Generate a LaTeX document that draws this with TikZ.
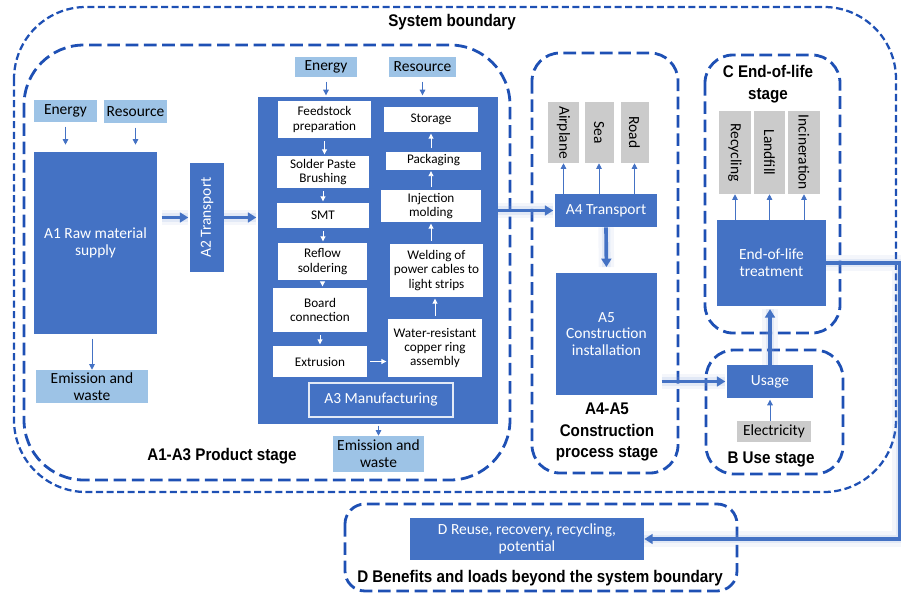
\documentclass[tikz,border=0pt]{standalone}
\usepackage{fontspec}
\setmainfont{Carlito}
\newfontfamily\stagefont[FakeStretch=0.9]{Liberation Sans}
\usetikzlibrary{arrows.meta,positioning,calc}

\definecolor{boxblue}{HTML}{4472C4}
\definecolor{inputblue}{HTML}{9DC3E6}
\definecolor{modegray}{HTML}{CBCBCB}
\definecolor{lineblue}{HTML}{1E50B4}

\tikzset{
  sz/.style 2 args={minimum width=#1*0.025cm, minimum height=#2*0.025cm},
  bluebox/.style={fill=boxblue, text=white, inner sep=0pt, align=center, font=\fontsize{11}{12}\selectfont},
  inputbox/.style={fill=inputblue, inner sep=0pt, align=center, font=\fontsize{11}{12}\selectfont},
  stepbox/.style={fill=white, inner sep=0pt, align=center, font=\fontsize{9.4}{10.2}\selectfont},
  modebox/.style={fill=modegray, inner sep=0pt, align=center, font=\fontsize{11}{12}\selectfont},
  stagelabel/.style={font=\stagefont\bfseries\fontsize{12}{15.5}\selectfont, align=center},
  outerdash/.style={draw=lineblue, line width=1.6pt, dash pattern=on 5pt off 2.5pt},
  stagedash/.style={draw=lineblue, line width=2pt, dash pattern=on 9pt off 4pt},
  thinarrow/.style={-{Triangle[length=4pt,width=4pt]}, boxblue, line width=0.7pt},
  whitearrow/.style={-{Triangle[length=3.5pt,width=3.5pt]}, white, line width=0.6pt},
  flow/.style={-{Triangle[length=6pt,width=7pt]}, boxblue, line width=2.6pt,
    preaction={draw=boxblue!60, line width=11pt, opacity=0.10, -},
    preaction={draw=boxblue!60, line width=6pt, opacity=0.18, -}},
}

\begin{document}
\begin{tikzpicture}[x=0.025cm, y=-0.025cm]
  \useasboundingbox (0,0) rectangle (901,593);

  % Stage frames
  \draw[outerdash, rounded corners=1.8cm] (14,7) rectangle (896,492);
  \draw[stagedash, rounded corners=1.5cm] (24,45) rectangle (510,480);
  \draw[stagedash, rounded corners=0.7cm] (532,53) rectangle (678,473);
  \draw[stagedash, rounded corners=0.7cm] (705,55) rectangle (840,333);
  \draw[stagedash, rounded corners=0.7cm] (706,350) rectangle (843,474);
  \draw[stagedash, rounded corners=0.5cm] (345,504) rectangle (737,591);

  \node[stagelabel] (sysname) at (452,22) {System boundary};
  \node[stagelabel] (prodlabel) at (222,456) {A1-A3 Product stage};
  \node[stagelabel] (constrlabel) at (607,432) {A4-A5\\Construction\\process stage};
  \node[stagelabel] (eollabel) at (768,84) {C End-of-life\\stage};
  \node[stagelabel] (uselabel) at (771,459) {B Use stage};
  \node[stagelabel] (dlabel) at (540,578) {D Benefits and loads beyond the system boundary};

  % A1 raw material and A2 transport
  \node[inputbox, sz={63}{22}] (energyA) at (65.5,111) {Energy};
  \node[inputbox, sz={63}{23}] (resourceA) at (135.5,111.5) {Resource};
  \node[bluebox, sz={123}{182}] (rawmat) at (95.5,243) {A1 Raw material\\supply};
  \node[inputbox, sz={112}{33}] (emisA) at (92,386.5) {Emission and\\waste};
  \node[bluebox, sz={109}{34}, rotate=90] (transA2) at (207,217.5) {A2 Transport};

  % A3 manufacturing block
  \node[inputbox, sz={62}{20}] (energyB) at (326,67) {Energy};
  \node[inputbox, sz={67}{20}] (resourceB) at (422.5,67) {Resource};
  \node[fill=boxblue, sz={240}{327}] (manuf) at (378,260.5) {};
  \node[stepbox, sz={93}{37}] (feed) at (324.5,119.5) {Feedstock\\preparation};
  \node[stepbox, sz={92}{32}] (solder) at (323,172) {Solder Paste\\Brushing};
  \node[stepbox, sz={92}{25}] (smt) at (323,215.5) {SMT};
  \node[stepbox, sz={89}{37}] (reflow) at (322.5,261.5) {Reflow\\soldering};
  \node[stepbox, sz={94}{44}] (board) at (320,310) {Board\\connection};
  \node[stepbox, sz={94}{31}] (extrude) at (320,361.5) {Extrusion};
  \node[stepbox, sz={94}{58}] (water) at (435,348) {Water-resistant\\copper ring\\assembly};
  \node[stepbox, sz={93}{53}] (weld) at (436.5,270.5) {Welding of\\power cables to\\light strips};
  \node[stepbox, sz={100}{32}] (inject) at (431,206) {Injection\\molding};
  \node[stepbox, sz={95}{18}] (pack) at (433.5,160.5) {Packaging};
  \node[stepbox, sz={94}{25}] (store) at (431,119.5) {Storage};
  \node[bluebox, draw=white!85!boxblue, line width=0.8pt, sz={144}{34}] (manuflabel) at (381,400) {A3 Manufacturing};
  \node[inputbox, sz={91}{36}] (emisB) at (378.5,454) {Emission and\\waste};

  % A4 transport and A5 installation
  \node[modebox, sz={61}{31}, rotate=-90] (airplane) at (563.5,132.5) {Airplane};
  \node[modebox, sz={61}{29}, rotate=-90] (sea) at (599,132.5) {Sea};
  \node[modebox, sz={61}{28}, rotate=-90] (road) at (634.5,132.5) {Road};
  \node[bluebox, sz={102}{33}] (transA4) at (606,210.5) {A4 Transport};
  \node[bluebox, sz={101}{122}] (install) at (606.5,334) {A5\\Construction\\installation};

  % C end of life and B use
  \node[modebox, sz={83}{32}, rotate=-90] (recyc) at (735,152.5) {Recycling};
  \node[modebox, sz={83}{31}, rotate=-90] (landfill) at (769.5,152.5) {Landfill};
  \node[modebox, sz={83}{32}, rotate=-90] (incin) at (804,152.5) {Incineration};
  \node[bluebox, sz={109}{86}] (eol) at (771.5,263) {End-of-life\\treatment};
  \node[bluebox, sz={86}{33}] (usage) at (770,381.5) {Usage};
  \node[modebox, sz={74}{21}] (elec) at (774,431.5) {Electricity};

  % D beyond the boundary
  \node[bluebox, sz={234}{42}] (reuse) at (527,539) {D Reuse, recovery, recycling,\\potential};
  \coordinate (rightedge) at (900,0);

  % Inputs and outputs
  \draw[thinarrow, shorten <=3pt, shorten >=5pt] (energyA.south) -- (energyA.south |- rawmat.north);
  \draw[thinarrow, shorten <=3pt, shorten >=5pt] (resourceA.south) -- (resourceA.south |- rawmat.north);
  \draw[thinarrow, shorten <=3pt] (emisA.north |- rawmat.south) -- (emisA.north);
  \draw[thinarrow, shorten <=3pt, shorten >=1pt] (energyB.south) -- (energyB.south |- manuf.north);
  \draw[thinarrow, shorten <=3pt, shorten >=1pt] (resourceB.south) -- (resourceB.south |- manuf.north);
  \draw[thinarrow, shorten <=1pt] (emisB.north |- manuf.south) -- (emisB.north);
  \draw[thinarrow, shorten >=1pt] (elec.north -| usage) -- (usage.south);

  % Process steps inside A3
  \draw[whitearrow, shorten <=2pt, shorten >=1pt] (feed.south) -- (feed.south |- solder.north);
  \draw[whitearrow, shorten <=2pt, shorten >=1pt] (solder.south) -- (solder.south |- smt.north);
  \draw[whitearrow, shorten <=2pt, shorten >=1pt] (smt.south) -- (smt.south |- reflow.north);
  \draw[whitearrow, shorten <=2pt, shorten >=1pt] (reflow.south) -- (reflow.south |- board.north);
  \draw[whitearrow, shorten <=2pt, shorten >=1pt] (board.south) -- (board.south |- extrude.north);
  \draw[whitearrow, shorten <=2pt, shorten >=1pt] (extrude.east) -- (extrude.east -| water.west);
  \draw[whitearrow, shorten <=2pt, shorten >=1pt] (water.north) -- (water.north |- weld.south);
  \draw[whitearrow, shorten <=2pt, shorten >=1pt] (weld.north -| inject) -- (inject.south);
  \draw[whitearrow, shorten <=2pt, shorten >=1pt] (inject.north) -- (inject.north |- pack.south);
  \draw[whitearrow, shorten <=2pt, shorten >=1pt] (pack.north -| store) -- (store.south);

  % Transport modes and end-of-life routes
  \foreach \m in {airplane, sea, road}
    \draw[thinarrow, line width=0.6pt] (transA4.north -| \m) -- (\m.east);
  \foreach \m in {recyc, landfill, incin}
    \draw[thinarrow, line width=0.6pt] (eol.north -| \m) -- (\m.east);

  % Main material flow
  \draw[flow, shorten <=3pt, shorten >=1pt] (rawmat.east |- transA2) -- (transA2.north);
  \draw[flow, shorten >=1pt] (transA2.south) -- (transA2.south -| manuf.west);
  \draw[flow, shorten >=1pt] (manuf.east |- transA4) -- (transA4.west);
  \draw[flow, shorten >=4pt] (transA4.south) -- (install.north);
  \draw[flow, shorten <=3pt, shorten >=1pt] (install.east |- usage) -- (usage.west);
  \draw[flow, shorten >=2pt] (usage.north) -- (usage.north |- eol.south);
  \draw[flow] (eol.east) -- (eol.east -| rightedge) |- (reuse.east);
\end{tikzpicture}
\end{document}
